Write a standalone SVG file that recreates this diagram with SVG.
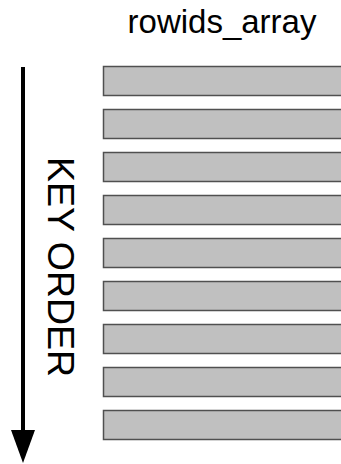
<svg xmlns="http://www.w3.org/2000/svg" width="341" height="464" viewBox="0 0 341 464">
<style>
.cell{fill:#c0c0c0;stroke:#505050;stroke-width:1.5}
.t{font-family:"Liberation Sans",Arial,sans-serif;fill:#000}
</style>
<rect width="341" height="464" fill="#fff"/>
<g id="title"><text class="t" x="222" y="33" font-size="33" text-anchor="middle">rowids_array</text></g>
<g id="cells">
<rect id="c1" class="cell" x="103.5" y="66.5" width="250" height="29"/>
<rect id="c2" class="cell" x="103.5" y="109.5" width="250" height="29"/>
<rect id="c3" class="cell" x="103.5" y="152.5" width="250" height="29"/>
<rect id="c4" class="cell" x="103.5" y="195.5" width="250" height="29"/>
<rect id="c5" class="cell" x="103.5" y="238.5" width="250" height="29"/>
<rect id="c6" class="cell" x="103.5" y="281.5" width="250" height="29"/>
<rect id="c7" class="cell" x="103.5" y="324.5" width="250" height="29"/>
<rect id="c8" class="cell" x="103.5" y="367.5" width="250" height="29"/>
<rect id="c9" class="cell" x="103.5" y="410.5" width="250" height="29"/>
</g>
<g id="connectors">
<line x1="23" y1="67" x2="23" y2="432" stroke="#000" stroke-width="4"/>
<polygon points="11,430 35,430 23,463" fill="#000"/>
</g>
<g id="key-order"><text class="t" font-size="37.5" transform="translate(48,157) rotate(90)">KEY ORDER</text></g>
</svg>
